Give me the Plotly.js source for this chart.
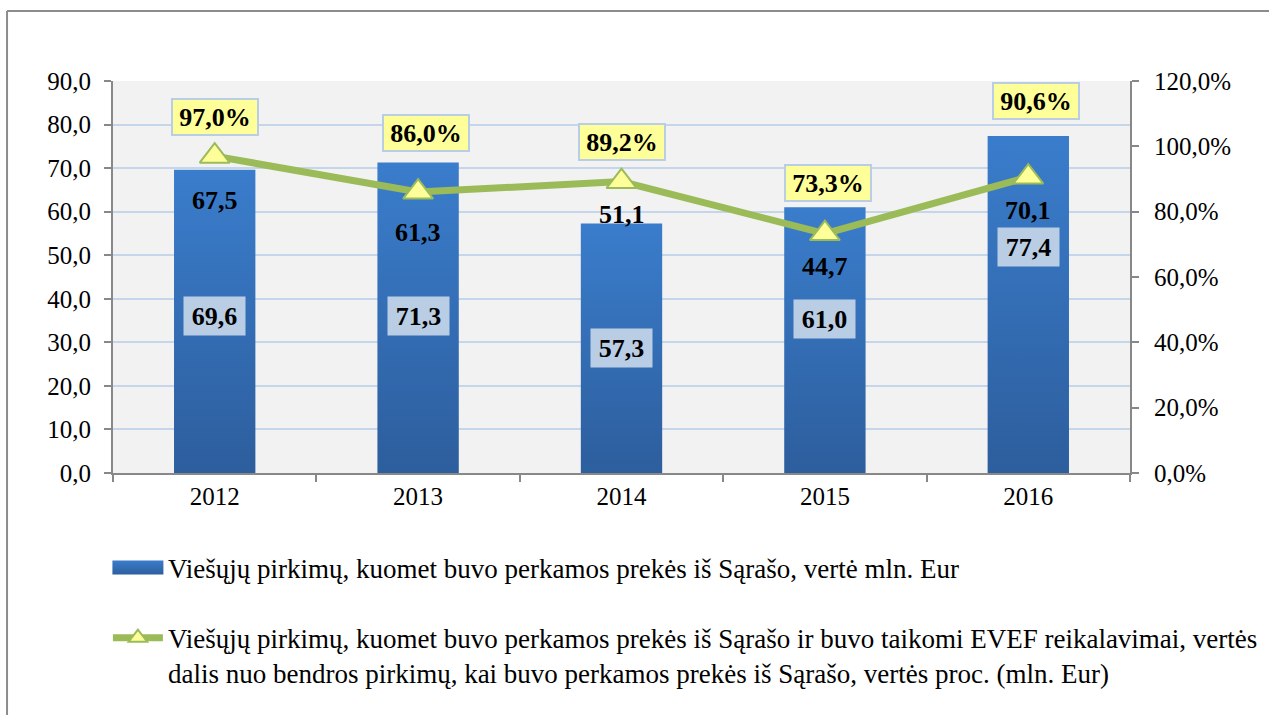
<!DOCTYPE html>
<html>
<head>
<meta charset="utf-8">
<script src="https://cdn.plot.ly/plotly-3.0.1.min.js"></script>
<style>
  html, body { margin: 0; padding: 0; background: #ffffff; }
  #chart { width: 1269px; height: 715px; }
</style>
</head>
<body>
<div id="chart"></div>
<script>
// ---- data ----
const years = ['2012', '2013', '2014', '2015', '2016'];
const totalValue = [69.6, 71.3, 57.3, 61.0, 77.4];      // mln Eur
const evefValue = [67.5, 61.3, 51.1, 44.7, 70.1];       // mln Eur with EVEF requirements
const evefShare = [0.970, 0.860, 0.892, 0.733, 0.906];  // share of value
const barName = 'Viešųjų pirkimų, kuomet buvo perkamos prekės iš Sąrašo, vertė mln. Eur';
const lineName = 'Viešųjų pirkimų, kuomet buvo perkamos prekės iš Sąrašo ir buvo taikomi EVEF reikalavimai, vertės<br>dalis nuo bendros pirkimų, kai buvo perkamos prekės iš Sąrašo, vertės proc. (mln. Eur)';

// ---- label placement (pixels) ----
const pctShift = [39, 59, 40, 51, 76];
const pctXShift = [0, 8, 0, 3, 8];
const evefShift = [-44, -40, -33, -33, -33];
const totalShift = [5, 2, 0, 21, 57];

const FONT = "'Liberation Serif', serif";
const fmt1 = v => v.toFixed(1).replace('.', ',');
const fmtPct = v => (v * 100).toFixed(1).replace('.', ',') + '%';

const barTrace = {
  type: 'bar', x: years, y: totalValue, name: barName,
  marker: { color: '#3469b3' }, legendgroup: 'a'
};
const lineTrace = {
  type: 'scatter', mode: 'lines+markers', x: years, y: evefShare, yaxis: 'y2', name: lineName,
  line: { color: '#9bbb59', width: 7 },
  marker: { symbol: 'triangle-up', size: 26, color: '#ffff99', line: { color: '#9bbb59', width: 2 } },
  legendgroup: 'b'
};

const annotations = [];
for (let i = 0; i < years.length; i++) {
  annotations.push({
    x: i, y: evefShare[i], xref: 'x', yref: 'y2', text: '<b>' + fmtPct(evefShare[i]) + '</b>',
    showarrow: false, yshift: pctShift[i], xshift: pctXShift[i],
    font: { family: FONT, size: 26, color: '#000' },
    bgcolor: '#ffff99', bordercolor: '#b9cde5', borderwidth: 2, borderpad: 1, width: 82, height: 32
  });
  annotations.push({
    x: i, y: evefShare[i], xref: 'x', yref: 'y2', text: '<b>' + fmt1(evefValue[i]) + '</b>',
    showarrow: false, yshift: evefShift[i],
    font: { family: FONT, size: 26, color: '#000' }
  });
  annotations.push({
    x: i, y: totalValue[i] / 2, xref: 'x', yref: 'y', text: '<b>' + fmt1(totalValue[i]) + '</b>',
    showarrow: false, yshift: totalShift[i],
    font: { family: FONT, size: 26, color: '#000' },
    bgcolor: '#b9cde5', borderpad: 2, width: 57, height: 34
  });
}

const tickFont = { family: FONT, size: 25, color: '#000' };
const layout = {
  width: 1269, height: 715,
  margin: { l: 113, r: 139, t: 81, b: 242 },
  paper_bgcolor: '#ffffff', plot_bgcolor: '#f2f2f2',
  separators: ', ',
  font: { family: FONT, color: '#000' },
  bargap: 0.6,
  showlegend: true,
  legend: {
    orientation: 'v', x: -0.005, xanchor: 'left', y: -0.18, yanchor: 'top',
    font: { family: FONT, size: 27, color: '#000' },
    itemwidth: 50, valign: 'top', tracegroupgap: 32, bgcolor: 'rgba(0,0,0,0)'
  },
  xaxis: {
    type: 'category', range: [-0.5, 4.5], tickson: 'boundaries',
    ticks: 'outside', ticklen: 7, tickwidth: 2, tickcolor: '#888',
    showline: true, linecolor: '#888', linewidth: 2, showgrid: false,
    tickfont: tickFont
  },
  yaxis: {
    range: [0, 90], dtick: 10, tick0: 0, tickformat: '.1f',
    ticks: 'outside', ticklen: 7, tickwidth: 2, tickcolor: '#888',
    showline: true, linecolor: '#888', linewidth: 2,
    showgrid: true, gridcolor: '#c6d6ea', gridwidth: 2, zeroline: false,
    tickfont: tickFont, ticklabelstandoff: 8
  },
  yaxis2: {
    overlaying: 'y', side: 'right', range: [0, 1.2], dtick: 0.2, tick0: 0, tickformat: '.1%',
    ticks: 'outside', ticklen: 7, tickwidth: 2, tickcolor: '#888',
    showline: true, linecolor: '#888', linewidth: 2,
    showgrid: false, zeroline: false, tickfont: tickFont, ticklabelstandoff: 10
  },
  annotations: annotations,
  shapes: [
    { type: 'line', xref: 'paper', yref: 'paper', x0: -0.1042, x1: -0.1042, y0: 1.1786, y1: -0.7,
      line: { color: '#8c8c8c', width: 2 } },
    { type: 'line', xref: 'paper', yref: 'paper', x0: -0.1042, x1: 1.2, y0: 1.1786, y1: 1.1786,
      line: { color: '#8c8c8c', width: 2 } }
  ]
};

Plotly.newPlot('chart', [barTrace, lineTrace], layout, { displayModeBar: false }).then(gd => {
  const svg = gd.querySelector('.main-svg');
  const ns = 'http://www.w3.org/2000/svg';
  let defs = svg.querySelector('defs');
  if (!defs) { defs = document.createElementNS(ns, 'defs'); svg.insertBefore(defs, svg.firstChild); }
  const grad = document.createElementNS(ns, 'linearGradient');
  grad.setAttribute('id', 'barGrad');
  grad.setAttribute('x1', '0'); grad.setAttribute('y1', '0');
  grad.setAttribute('x2', '0'); grad.setAttribute('y2', '1');
  [['0', '#3a7dcc'], ['1', '#2d5e9d']].forEach(([o, c]) => {
    const s = document.createElementNS(ns, 'stop');
    s.setAttribute('offset', o); s.setAttribute('stop-color', c);
    grad.appendChild(s);
  });
  defs.appendChild(grad);
  gd.querySelectorAll('.barlayer .point path').forEach(p => { p.style.fill = 'url(#barGrad)'; });
  // wide swatch for the bar legend entry, like the original
  const legBar = gd.querySelector('.legend .traces .legendpoints path');
  if (legBar) {
    legBar.setAttribute('d', 'M-25.5,-7H25.5V7H-25.5Z');
    legBar.style.fill = 'url(#barGrad)';
    legBar.style.stroke = 'none';
  }
});
</script>
</body>
</html>
